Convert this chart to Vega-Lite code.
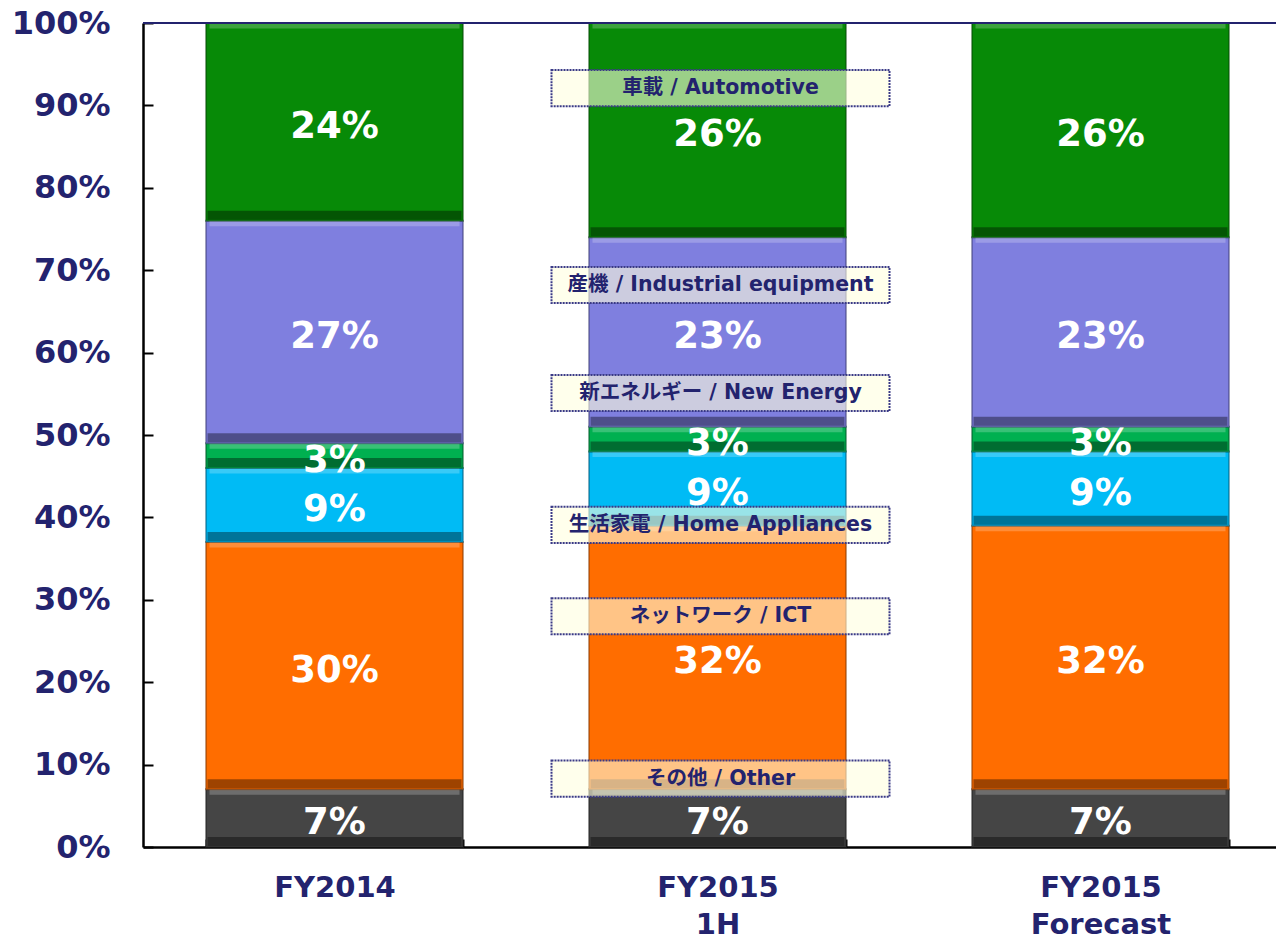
{
  "$schema": "https://vega.github.io/schema/vega-lite/v6.json",
  "width": 1149,
  "height": 824,
  "autosize": {"type": "none"},
  "padding": {"left": 143, "top": 23, "right": 0, "bottom": 94},
  "background": "white",
  "config": {
    "view": {"stroke": null},
    "font": "DejaVu Sans"
  },
  "datasets": {
    "segments": [
      {"period": "FY2014", "segment": "Other", "ord": 1, "pct": 7, "label": "7%"},
      {"period": "FY2014", "segment": "ICT", "ord": 2, "pct": 30, "label": "30%"},
      {"period": "FY2014", "segment": "Home Appliances", "ord": 3, "pct": 9, "label": "9%"},
      {"period": "FY2014", "segment": "New Energy", "ord": 4, "pct": 3, "label": "3%"},
      {"period": "FY2014", "segment": "Industrial equipment", "ord": 5, "pct": 27, "label": "27%"},
      {"period": "FY2014", "segment": "Automotive", "ord": 6, "pct": 24, "label": "24%"},
      {"period": "FY2015 1H", "segment": "Other", "ord": 1, "pct": 7, "label": "7%"},
      {"period": "FY2015 1H", "segment": "ICT", "ord": 2, "pct": 32, "label": "32%"},
      {"period": "FY2015 1H", "segment": "Home Appliances", "ord": 3, "pct": 9, "label": "9%"},
      {"period": "FY2015 1H", "segment": "New Energy", "ord": 4, "pct": 3, "label": "3%"},
      {"period": "FY2015 1H", "segment": "Industrial equipment", "ord": 5, "pct": 23, "label": "23%"},
      {"period": "FY2015 1H", "segment": "Automotive", "ord": 6, "pct": 26, "label": "26%"},
      {"period": "FY2015 Forecast", "segment": "Other", "ord": 1, "pct": 7, "label": "7%"},
      {"period": "FY2015 Forecast", "segment": "ICT", "ord": 2, "pct": 32, "label": "32%"},
      {"period": "FY2015 Forecast", "segment": "Home Appliances", "ord": 3, "pct": 9, "label": "9%"},
      {"period": "FY2015 Forecast", "segment": "New Energy", "ord": 4, "pct": 3, "label": "3%"},
      {"period": "FY2015 Forecast", "segment": "Industrial equipment", "ord": 5, "pct": 23, "label": "23%"},
      {"period": "FY2015 Forecast", "segment": "Automotive", "ord": 6, "pct": 26, "label": "26%"}
    ],
    "legendLabels": [
      {"period": "FY2015 1H", "name": "車載 / Automotive", "pos": 92.1},
      {"period": "FY2015 1H", "name": "産機 / Industrial equipment", "pos": 68.2},
      {"period": "FY2015 1H", "name": "新エネルギー / New Energy", "pos": 55.1},
      {"period": "FY2015 1H", "name": "生活家電 / Home Appliances", "pos": 39.1},
      {"period": "FY2015 1H", "name": "ネットワーク / ICT", "pos": 28.0},
      {"period": "FY2015 1H", "name": "その他 / Other", "pos": 8.3}
    ]
  },
  "layer": [
    {
      "data": {"name": "segments"},
      "mark": {"type": "bar", "strokeWidth": 2, "strokeOpacity": 0.5},
      "encoding": {
        "x": {
          "field": "period",
          "type": "nominal",
          "sort": ["FY2014", "FY2015 1H", "FY2015 Forecast"],
          "scale": {"paddingInner": 0.329, "paddingOuter": 0.1645},
          "axis": {
            "title": null,
            "labelAngle": 0,
            "labelExpr": "split(datum.label, ' ')",
            "labelFont": "DejaVu Sans",
            "labelFontWeight": "bold",
            "labelFontSize": 29,
            "labelColor": "#23236E",
            "labelLineHeight": 37,
            "labelPadding": 34,
            "tickBand": "extent",
            "ticks": true,
            "tickSize": -8,
            "tickColor": "#000000",
            "tickWidth": 2,
            "domainColor": "#000000",
            "domainWidth": 2.5,
            "grid": false
          }
        },
        "y": {
          "field": "pct",
          "type": "quantitative",
          "stack": "zero",
          "scale": {"domain": [0, 100], "nice": false},
          "axis": {
            "title": null,
            "values": [0, 10, 20, 30, 40, 50, 60, 70, 80, 90, 100],
            "labelExpr": "datum.value + '%'",
            "labelFont": "DejaVu Sans",
            "labelFontWeight": "bold",
            "labelFontSize": 32,
            "labelColor": "#23236E",
            "labelPadding": 43,
            "tickSize": -10,
            "tickColor": "#000000",
            "tickWidth": 2,
            "domainColor": "#000000",
            "domainWidth": 2.5,
            "grid": false
          }
        },
        "order": {"field": "ord", "type": "quantitative"},
        "color": {
          "field": "segment",
          "type": "nominal",
          "legend": null,
          "scale": {
            "domain": ["Other", "ICT", "Home Appliances", "New Energy", "Industrial equipment", "Automotive"],
            "range": ["#454545", "#FF6D00", "#00BBF5", "#00B050", "#7F7FDF", "#078A07"]
          }
        },
        "stroke": {
          "field": "segment",
          "type": "nominal",
          "legend": null,
          "scale": {
            "domain": ["Other", "ICT", "Home Appliances", "New Energy", "Industrial equipment", "Automotive"],
            "range": ["#222222", "#8A3A00", "#005E80", "#005A28", "#3F3F7A", "#034A03"]
          }
        }
      }
    },
    {
      "data": {"name": "segments"},
      "mark": {"type": "tick", "color": "#FFFFFF", "opacity": 0.22, "thickness": 5, "size": 250, "yOffset": 3},
      "encoding": {
        "x": {"field": "period", "type": "nominal", "sort": ["FY2014", "FY2015 1H", "FY2015 Forecast"]},
        "y": {"field": "pct", "type": "quantitative", "stack": "zero"},
        "order": {"field": "ord", "type": "quantitative"}
      }
    },
    {
      "data": {"name": "segments"},
      "mark": {"type": "tick", "color": "#000000", "opacity": 0.38, "thickness": 9, "size": 254, "yOffset": -5.5},
      "encoding": {
        "x": {"field": "period", "type": "nominal", "sort": ["FY2014", "FY2015 1H", "FY2015 Forecast"]},
        "y": {"field": "pct", "type": "quantitative", "stack": "zero", "bandPosition": 0},
        "order": {"field": "ord", "type": "quantitative"}
      }
    },
    {
      "data": {"name": "segments"},
      "mark": {"type": "text", "font": "DejaVu Sans", "fontWeight": "bold", "fontSize": 37, "color": "#FFFFFF", "baseline": "middle", "align": "center", "dy": 5},
      "encoding": {
        "x": {"field": "period", "type": "nominal", "sort": ["FY2014", "FY2015 1H", "FY2015 Forecast"]},
        "y": {"field": "pct", "type": "quantitative", "stack": "zero", "bandPosition": 0.5},
        "order": {"field": "ord", "type": "quantitative"},
        "text": {"field": "label"}
      }
    },
    {
      "data": {"values": [{"top": 100}]},
      "mark": {"type": "rule", "color": "#23236E", "strokeWidth": 2},
      "encoding": {"y": {"field": "top", "type": "quantitative"}}
    },
    {
      "data": {"name": "legendLabels"},
      "mark": {
        "type": "point",
        "shape": "M-1,-0.107L1,-0.107L1,0.107L-1,0.107Z",
        "size": 114244,
        "filled": true,
        "fill": "#FFFFE0",
        "fillOpacity": 0.6,
        "stroke": "#3A3A86",
        "strokeWidth": 2,
        "strokeDash": [2, 1],
        "xOffset": 3
      },
      "encoding": {
        "x": {"field": "period", "type": "nominal", "sort": ["FY2014", "FY2015 1H", "FY2015 Forecast"]},
        "y": {"field": "pos", "type": "quantitative"}
      }
    },
    {
      "data": {"name": "legendLabels"},
      "mark": {"type": "text", "font": "DejaVu Sans, Noto Sans CJK JP", "fontWeight": "bold", "fontSize": 20.5, "color": "#23236E", "baseline": "middle", "align": "center", "xOffset": 3},
      "encoding": {
        "x": {"field": "period", "type": "nominal", "sort": ["FY2014", "FY2015 1H", "FY2015 Forecast"]},
        "y": {"field": "pos", "type": "quantitative"},
        "text": {"field": "name"}
      }
    }
  ]
}
